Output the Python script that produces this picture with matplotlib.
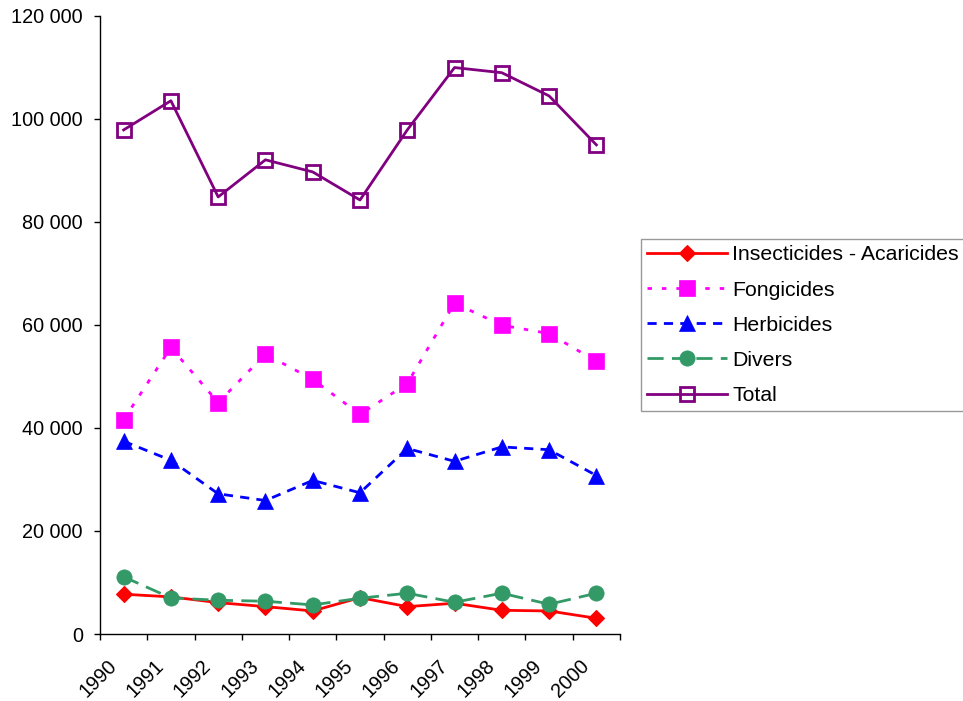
import matplotlib
matplotlib.use("Agg")
import matplotlib.pyplot as plt
from matplotlib.ticker import FuncFormatter, MultipleLocator, FixedLocator
from matplotlib.transforms import ScaledTranslation, blended_transform_factory

years = ["1990", "1991", "1992", "1993", "1994", "1995", "1996", "1997", "1998", "1999", "2000"]
insecticides = [7720, 7200, 6090, 5310, 4470, 7060, 5310, 5970, 4600, 4470, 3050]
fongicides = [41600, 55600, 44900, 54300, 49400, 42600, 48600, 64200, 59900, 58300, 52900]
herbicides = [37400, 33700, 27200, 25900, 29800, 27400, 36000, 33500, 36300, 35750, 30750]
divers = [11090, 7000, 6550, 6360, 5640, 6940, 7910, 6160, 7910, 5770, 7910]
total = [97800, 103460, 84800, 92000, 89650, 84200, 97800, 109900, 108900, 104400, 94900]

plt.rcParams['font.family'] = ['Liberation Sans', 'DejaVu Sans']

fig = plt.figure(figsize=(9.63, 7.01), dpi=100)
ax = fig.add_axes([100/963, 1-634/701, (620-100)/963, (634-15.5)/701])

x = [i + 0.5 for i in range(len(years))]
lw = 2.0

ax.plot(x, insecticides, color='#FF0000', lw=lw, marker='D', ms=8.5,
        mfc='#FF0000', mec='#FF0000', mew=0.8, label='Insecticides - Acaricides')
ax.plot(x, fongicides, color='#FF00FF', lw=lw, dashes=(1.6, 3.6), marker='s', ms=11,
        mfc='#FF00FF', mec='#FF00FF', mew=0.5, label='Fongicides')
ax.plot(x, herbicides, color='#0000FF', lw=lw, dashes=(3.3, 2.6), marker='^', ms=11.5,
        mfc='#0000FF', mec='#0000FF', mew=0.5, label='Herbicides')
ax.plot(x, divers, color='#339966', lw=lw, dashes=(5.8, 3.0), marker='o', ms=11,
        mfc='#339966', mec='#339966', mew=0.5, label='Divers')
ax.plot(x, total, color='#800080', lw=lw, marker='s', ms=9.6,
        mfc='none', mec='#800080', mew=2.0, label='Total')

ax.set_xlim(0, len(years))
ax.set_ylim(0, 120000)

ax.spines['top'].set_visible(False)
ax.spines['right'].set_visible(False)
for s in ('left', 'bottom'):
    ax.spines[s].set_linewidth(1.0)
    ax.spines[s].set_color('black')

ax.yaxis.set_major_locator(MultipleLocator(20000))
ax.yaxis.set_major_formatter(FuncFormatter(lambda v, p: f"{int(v):,}".replace(",", " ")))
ax.tick_params(axis='y', direction='out', length=4.3, width=1.0, pad=8, labelsize=14.3)

ax.xaxis.set_major_locator(FixedLocator(list(range(len(years) + 1))))
ax.xaxis.set_major_formatter(FuncFormatter(lambda v, p: ""))
ax.tick_params(axis='x', direction='out', length=4.3, width=1.0)

trans = blended_transform_factory(ax.transData, ax.transAxes) + \
    ScaledTranslation(-0.10, -0.29, fig.dpi_scale_trans)
for xi, lab in zip(x, years):
    ax.text(xi, 0, lab, transform=trans, rotation=45, rotation_mode='anchor',
            ha='right', va='center', fontsize=14.3)

leg = fig.legend(loc='upper left', bbox_to_anchor=(641/963, 1-239/701),
                 bbox_transform=fig.transFigure, borderaxespad=0, borderpad=0.3,
                 handlelength=3.76, handletextpad=0.24, labelspacing=0.76,
                 fontsize=15.3, frameon=True, fancybox=False, shadow=False)
leg.get_frame().set_edgecolor('#808080')
leg.get_frame().set_linewidth(1.0)

fig.savefig('out.png', dpi=100)
